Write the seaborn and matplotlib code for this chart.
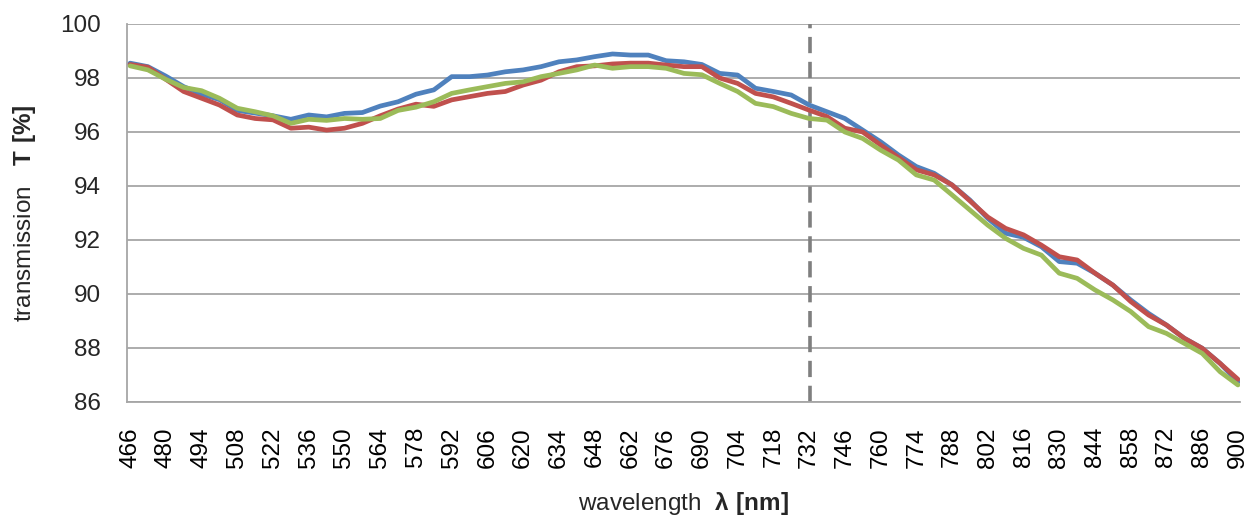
import numpy as np
import pandas as pd
import matplotlib
matplotlib.use("Agg")
import matplotlib.pyplot as plt
import seaborn as sns

# ---- data ----
wavelength = [466, 473, 480, 487, 494, 501, 508, 515, 522, 529, 536, 543, 550, 557,
              564, 571, 578, 585, 592, 599, 606, 613, 620, 627, 634, 641, 648, 655,
              662, 669, 676, 683, 690, 697, 704, 711, 718, 725, 732, 739, 746, 753,
              760, 767, 774, 781, 788, 795, 802, 809, 816, 823, 830, 837, 844, 851,
              858, 865, 872, 879, 886, 893, 900]

blue = [98.55, 98.42, 98.07, 97.68, 97.40, 97.20, 96.80, 96.70, 96.60, 96.47, 96.63, 96.56,
        96.69, 96.72, 96.96, 97.12, 97.40, 97.56, 98.05, 98.05, 98.11, 98.23, 98.30, 98.42,
        98.60, 98.67, 98.79, 98.89, 98.85, 98.85, 98.64, 98.60, 98.50, 98.17, 98.11, 97.62,
        97.50, 97.37, 97.00, 96.75, 96.50, 96.07, 95.64, 95.15, 94.72, 94.47, 94.04, 93.48,
        92.80, 92.25, 92.10, 91.75, 91.20, 91.14, 90.77, 90.33, 89.78, 89.28, 88.85, 88.36,
        87.99, 87.43, 86.74]

red = [98.50, 98.40, 97.95, 97.50, 97.25, 97.00, 96.63, 96.50, 96.45, 96.14, 96.18, 96.07,
       96.14, 96.32, 96.60, 96.85, 97.03, 96.95, 97.19, 97.31, 97.43, 97.50, 97.74, 97.92,
       98.23, 98.42, 98.45, 98.52, 98.55, 98.55, 98.48, 98.42, 98.42, 98.00, 97.80, 97.43,
       97.30, 97.06, 96.81, 96.57, 96.14, 96.00, 95.52, 95.06, 94.60, 94.41, 94.04, 93.45,
       92.85, 92.43, 92.19, 91.81, 91.38, 91.26, 90.77, 90.33, 89.72, 89.22, 88.85, 88.36,
       87.99, 87.43, 86.84]

green = [98.45, 98.30, 97.95, 97.65, 97.53, 97.25, 96.88, 96.75, 96.60, 96.32, 96.47, 96.43,
         96.50, 96.47, 96.50, 96.80, 96.92, 97.12, 97.43, 97.56, 97.68, 97.80, 97.86, 98.05,
         98.17, 98.30, 98.48, 98.36, 98.42, 98.42, 98.36, 98.17, 98.12, 97.80, 97.50, 97.06,
         96.94, 96.69, 96.50, 96.44, 96.00, 95.76, 95.33, 94.96, 94.41, 94.22, 93.67, 93.11,
         92.55, 92.06, 91.69, 91.44, 90.77, 90.58, 90.15, 89.78, 89.35, 88.79, 88.54, 88.17,
         87.80, 87.12, 86.63]

series_names = ["sample 1", "sample 2", "sample 3"]
series_colors = ["#4F81BD", "#C0504D", "#9BBB59"]
x_tick_labels = list(range(466, 901, 14))
y_tick_labels = [86, 88, 90, 92, 94, 96, 98, 100]
marker_wavelength = 732.4

# ---- long-form table ----
df = pd.concat([
    pd.DataFrame({"wavelength": wavelength, "T": vals, "series": name})
    for name, vals in zip(series_names, [blue, red, green])
], ignore_index=True)

sns.set_theme(style="white")
plt.rcParams["font.family"] = ["Liberation Sans", "DejaVu Sans"]
plt.rcParams["mathtext.fontset"] = "custom"
plt.rcParams["mathtext.rm"] = "Liberation Sans"
plt.rcParams["mathtext.bf"] = "Liberation Sans:bold"

fig = plt.figure(figsize=(12.57, 5.27), dpi=100)
ax = fig.add_axes([127 / 1257, 125 / 527, (1240 - 127) / 1257, (402 - 24) / 527])

grid_color = "#a6a6a6"
for yv in y_tick_labels:
    ax.axhline(yv, color=grid_color, lw=1.3, zorder=0)

sns.lineplot(data=df, x="wavelength", y="T", hue="series",
             palette=dict(zip(series_names, series_colors)),
             linewidth=3.4, legend=False, ax=ax, zorder=3)

ax.axvline(marker_wavelength, color="#7f7f7f", lw=2.6, dashes=(4.5, 2.4),
           solid_capstyle="butt", dash_capstyle="butt", zorder=2)

ax.set_xlim(464.8, 900.8)
ax.set_ylim(86, 100)
ax.set_xticks(x_tick_labels)
ax.set_xticklabels([str(v) for v in x_tick_labels], rotation=90, fontsize=17.5)
ax.set_yticks(y_tick_labels)
ax.set_yticklabels([str(v) for v in y_tick_labels], fontsize=17.5)

ax.tick_params(axis="x", length=0, pad=18, colors="#000000")
ax.tick_params(axis="y", length=8, width=1.3, color=grid_color, pad=11)

for s in ["top", "right"]:
    ax.spines[s].set_visible(False)
for s in ["left", "bottom"]:
    ax.spines[s].set_color(grid_color)
    ax.spines[s].set_linewidth(1.3)

ax.set_xlabel(r"wavelength  $\mathbf{\lambda\ [nm]}$", fontsize=17.5, labelpad=16)
ax.set_ylabel(r"transmission   $\mathbf{T\ [\%]}$", fontsize=17.5, labelpad=16)

fig.savefig("out.png", dpi=100)
